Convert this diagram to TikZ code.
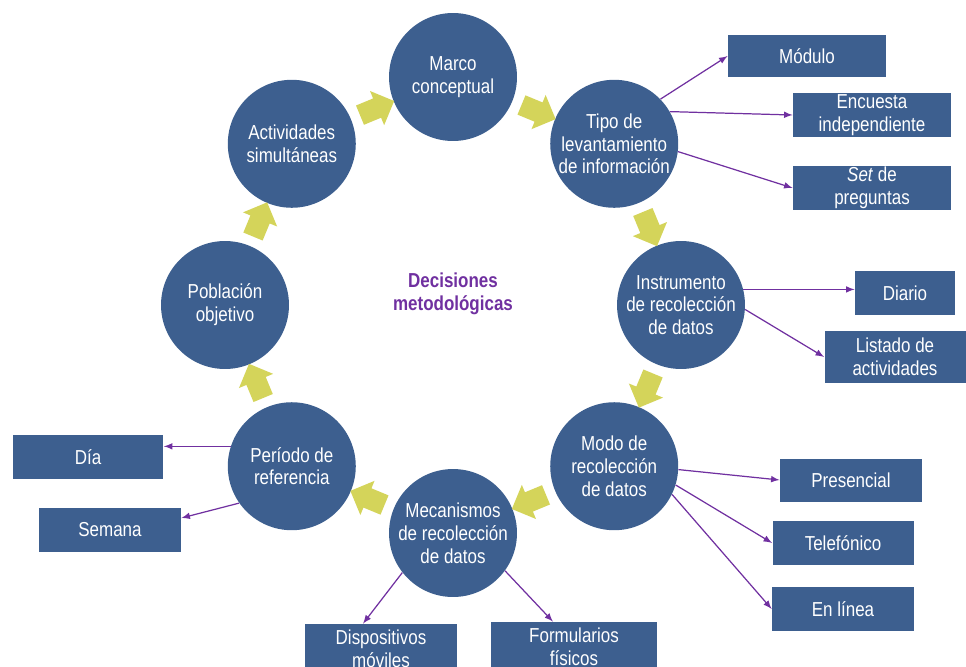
\documentclass[tikz,border=0pt]{standalone}
\usepackage{fontspec}
\setmainfont{Liberation Sans}[FakeStretch=0.84]
\usetikzlibrary{shapes.arrows}
\definecolor{azul}{RGB}{61,95,143}
\definecolor{amarillo}{RGB}{212,212,90}
\definecolor{morado}{RGB}{112,48,160}
\begin{document}
\begin{tikzpicture}[x=0.02cm,y=-0.02cm,>=latex,
    circulo/.style={circle,fill=azul,text=white,minimum size=2.56cm,inner sep=0pt,align=center,font=\fontsize{11.5}{13}\selectfont},
    caja/.style={fill=azul,text=white,minimum height=0.88cm,inner sep=0pt,align=center,font=\fontsize{11.5}{13}\selectfont},
    flecha/.style={single arrow,fill=amarillo,minimum width=0.74cm,minimum height=0.74cm,single arrow head extend=0.16cm,inner sep=0.2cm},
    enlace/.style={->,draw=morado,line width=0.7pt}]
\useasboundingbox (0,0) rectangle (966,666);
\foreach \a/\n/\t in {90/marco/Marco\\conceptual,45/tipo/Tipo de\\levantamiento\\de información,0/instr/Instrumento\\de recolección\\de datos,-45/modo/Modo de\\recolección\\de datos,-90/mecan/Mecanismos\\de recolección\\de datos,-135/periodo/Período de\\referencia,180/poblacion/Población\\objetivo,135/activ/Actividades\\simultáneas}
{
    \node[circulo] (\n) at ({453+228*cos(\a)},{305-228*sin(\a)}) {\t};
}
\foreach \a in {112.5,67.5,22.5,-22.5,-67.5,-112.5,-157.5,157.5}
{
    \node[flecha,rotate=\a-90] at ({453+211*cos(\a)},{305-211*sin(\a)}) {};
}
\node[text=morado,align=center,font=\fontsize{11.5}{13}\selectfont\bfseries] (decis) at (453,294) {Decisiones\\metodológicas};

\node[caja,minimum width=3.16cm,minimum height=0.86cm] (modulo) at (807,56) {Módulo};
\node[caja,minimum width=3.16cm] (encuesta) at (872,115) {Encuesta\\independiente};
\node[caja,minimum width=3.16cm] (preguntas) at (872,188) {\textit{Set} de\\preguntas};
\node[caja,minimum width=2cm] (diario) at (905,293) {Diario};
\node[caja,minimum width=2.82cm,minimum height=1.04cm] (listado) at (895,357) {Listado de\\actividades};
\node[caja,minimum width=2.84cm,minimum height=0.86cm] (presencial) at (851,480) {Presencial};
\node[caja,minimum width=2.82cm] (telefonico) at (843,543) {Telefónico};
\node[caja,minimum width=2.84cm] (enlinea) at (843,609) {En línea};
\node[caja,minimum width=3.02cm] (dia) at (88,457) {Día};
\node[caja,minimum width=2.84cm] (semana) at (110,530) {Semana};
\node[caja,minimum width=3.04cm,minimum height=1cm] (disp) at (381,649) {Dispositivos\\móviles};
\node[caja,minimum width=3.32cm,minimum height=1cm] (form) at (574,647) {Formularios\\físicos};

\draw[enlace] (tipo.44)--(modulo.west);
\draw[enlace] (tipo.30)--(encuesta.west);
\draw[enlace] (tipo.-7)--(preguntas.west);
\draw[enlace] (instr.14)--(instr.14 -| diario.west);
\draw[enlace] (instr.-4)--(listado.west);
\draw[enlace] (modo.-3)--(presencial.west);
\draw[enlace] (modo.-17)--(telefonico.west);
\draw[enlace] (modo.-26)--(enlinea.west);
\draw[enlace] (periodo.162)--(periodo.162 -| dia.east);
\draw[enlace] (periodo.215)--([yshift=0.24cm]semana.east);
\draw[enlace] (mecan.218)--([xshift=-0.36cm]disp.north);
\draw[enlace] (mecan.-36)--([xshift=-0.42cm]form.north);
\end{tikzpicture}
\end{document}
